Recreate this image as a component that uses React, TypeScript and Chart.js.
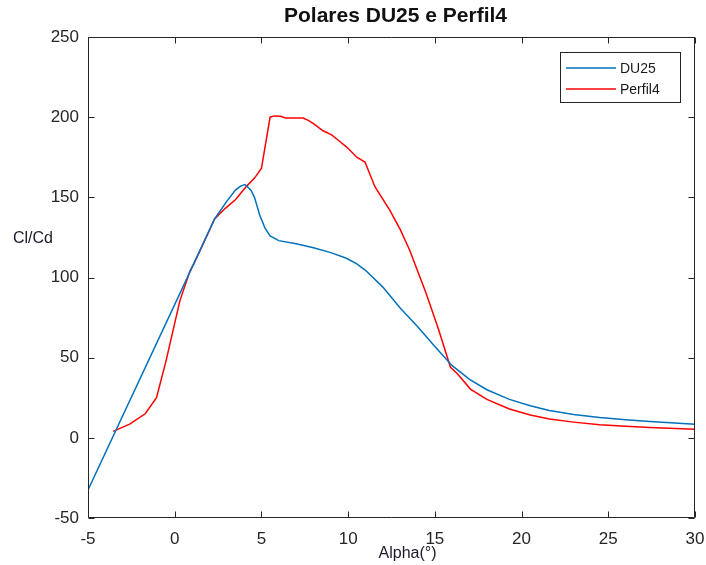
import React, { useEffect, useRef } from "react";
import { Chart, registerables } from "chart.js";

Chart.register(...registerables);

const chartTitle = "Polares DU25 e Perfil4";
const xLabel = "Alpha(°)";
const yLabel = "Cl/Cd";
const seriesNames = ["DU25", "Perfil4"];
const seriesColors = ["#0072BD", "#FF0000"];

const xTicks = [-5, 0, 5, 10, 15, 20, 25, 30];
const yTicks = [-50, 0, 50, 100, 150, 200, 250];

const du25Alpha = [
  -5, 0.9, 2.3, 3.0, 3.5, 3.8, 4.05, 4.4, 4.6, 4.9, 5.2, 5.5, 6.0, 7.0, 8.0, 9.0, 9.9, 10.5,
  11.0, 12.0, 13.0, 14.0, 15.0, 16.0, 17.0, 18.0, 19.3, 20.5, 21.6, 23.0, 24.5, 26.0, 27.4, 30.0,
];
const du25ClCd = [
  -32.5, 104, 136.5, 147.5, 154.5, 157, 158, 154.5, 150, 139, 131, 126, 123, 121, 118.5, 115.5, 112, 108.5,
  104.5, 94, 81, 69.5, 57, 45, 36.5, 30, 24, 20, 17, 14.5, 12.7, 11.3, 10.2, 8.5,
];

const perfil4Alpha = [
  -3.55, -2.6, -1.7, -1.05, -0.5, 0.3, 0.88, 1.1, 1.6, 2.3, 2.9, 3.5, 4.15, 4.6, 5.0, 5.5, 5.75, 6.1,
  6.4, 7.4, 7.7, 8.0, 8.55, 9.05, 9.5, 9.9, 10.5, 10.97, 11.55, 12.4, 13.0, 13.55, 14.5, 15.2, 15.9,
  16.3, 17.05, 18.0, 19.3, 20.5, 21.6, 23.0, 24.5, 26.0, 27.4, 30.0,
];
const perfil4ClCd = [
  4, 8.5, 15, 25, 48, 85.6, 104, 108.5, 120, 136.5, 143, 148.5, 157, 162, 168, 200, 200.8, 200.5,
  199.5, 199.5, 198, 196, 191.5, 189, 185, 181.5, 175, 172, 156.5, 142, 130, 117, 90, 68, 44,
  40, 30.4, 24, 18, 14.3, 11.7, 9.8, 8.1, 7.2, 6.4, 5.4,
];

const AXIS_COLOR = "#262626";
const FONT = 'Arial, "Liberation Sans", Helvetica, sans-serif';

const framePlugin = {
  id: "frameAndLabels",
  afterDatasetsDraw(chart: any) {
    const ctx = chart.ctx;
    const { left, right, top, bottom } = chart.chartArea;
    const xs = chart.scales.x;
    const ys = chart.scales.y;
    ctx.save();
    ctx.strokeStyle = AXIS_COLOR;
    ctx.lineWidth = 1;
    const L = Math.round(left) + 0.5;
    const R = Math.round(right) - 0.5;
    const T = Math.round(top) + 0.5;
    const B = Math.round(bottom) - 0.5;
    ctx.beginPath();
    ctx.rect(L, T, R - L, B - T);
    ctx.stroke();
    const tl = 6;
    ctx.beginPath();
    xs.ticks.forEach((t: any) => {
      const px = Math.round(xs.getPixelForValue(t.value)) + 0.5;
      ctx.moveTo(px, B);
      ctx.lineTo(px, B - tl);
      ctx.moveTo(px, T);
      ctx.lineTo(px, T + tl);
    });
    ys.ticks.forEach((t: any) => {
      const py = Math.round(ys.getPixelForValue(t.value)) + 0.5;
      ctx.moveTo(L, py);
      ctx.lineTo(L + tl, py);
      ctx.moveTo(R, py);
      ctx.lineTo(R - tl, py);
    });
    ctx.stroke();

    // legend
    const lx = 560.5, ly = 52.5, lw = 120, lh = 50;
    ctx.fillStyle = "#ffffff";
    ctx.fillRect(lx, ly, lw, lh);
    ctx.strokeStyle = AXIS_COLOR;
    ctx.strokeRect(lx, ly, lw, lh);
    const rows = [68, 89];
    chart.data.datasets.forEach((ds: any, i: number) => {
      ctx.strokeStyle = ds.borderColor;
      ctx.lineWidth = 1.5;
      ctx.beginPath();
      ctx.moveTo(566, rows[i]);
      ctx.lineTo(616, rows[i]);
      ctx.stroke();
      ctx.fillStyle = "#1a1a1a";
      ctx.font = `14px ${FONT}`;
      ctx.textAlign = "left";
      ctx.textBaseline = "middle";
      ctx.fillText(ds.label, 620, rows[i] + 1);
    });
    ctx.restore();
  },
  afterDraw(chart: any) {
    const ctx = chart.ctx;
    const { left, right } = chart.chartArea;
    ctx.save();
    ctx.fillStyle = "#111111";
    ctx.textBaseline = "middle";
    ctx.textAlign = "center";
    ctx.font = `bold 21px ${FONT}`;
    ctx.fillText(chartTitle, (left + right) / 2 + 4, 16);
    ctx.font = `16px ${FONT}`;
    ctx.fillStyle = "#1a1a2a";
    ctx.fillText(xLabel, (left + right) / 2 + 16, 554);
    ctx.textAlign = "left";
    ctx.fillText(yLabel, 13, 239);
    ctx.restore();
  },
};

export default function App() {
  const ref = useRef<HTMLCanvasElement | null>(null);
  useEffect(() => {
    if (!ref.current) return;
    const chart = new Chart(ref.current, {
      type: "line",
      data: {
        datasets: [
          {
            label: seriesNames[0],
            data: du25Alpha.map((x, i) => ({ x, y: du25ClCd[i] })),
            borderColor: seriesColors[0],
            borderWidth: 1.5,
            pointRadius: 0,
            tension: 0,
            fill: false,
          },
          {
            label: seriesNames[1],
            data: perfil4Alpha.map((x, i) => ({ x, y: perfil4ClCd[i] })),
            borderColor: seriesColors[1],
            borderWidth: 1.5,
            pointRadius: 0,
            tension: 0,
            fill: false,
          },
        ],
      },
      options: {
        animation: false,
        responsive: true,
        maintainAspectRatio: false,
        layout: { padding: { top: 37, right: 11, left: 0, bottom: 0 } },
        plugins: {
          legend: { display: false },
          title: { display: false },
          tooltip: { enabled: false },
        },
        scales: {
          x: {
            type: "linear",
            min: xTicks[0],
            max: xTicks[xTicks.length - 1],
            afterBuildTicks: (scale: any) => {
              scale.ticks = xTicks.map((v) => ({ value: v }));
            },
            afterFit: (scale: any) => {
              scale.height = 47;
              scale.paddingLeft = 0;
              scale.paddingRight = 0;
            },
            grid: { display: false, drawTicks: false },
            border: { display: false },
            ticks: {
              autoSkip: false,
              maxRotation: 0,
              padding: 11,
              color: AXIS_COLOR,
              font: { size: 17, family: FONT },
            },
          },
          y: {
            type: "linear",
            min: yTicks[0],
            max: yTicks[yTicks.length - 1],
            afterBuildTicks: (scale: any) => {
              scale.ticks = yTicks.map((v) => ({ value: v }));
            },
            afterFit: (scale: any) => {
              scale.width = 88;
              scale.paddingTop = 0;
              scale.paddingBottom = 0;
            },
            grid: { display: false, drawTicks: false },
            border: { display: false },
            ticks: {
              padding: 9,
              color: AXIS_COLOR,
              font: { size: 17, family: FONT },
            },
          },
        },
      },
      plugins: [framePlugin],
    });
    return () => chart.destroy();
  }, []);

  return (
    <div style={{ position: "absolute", left: 0, top: 0, width: 706, height: 565, background: "#fff" }}>
      <canvas ref={ref} />
    </div>
  );
}
